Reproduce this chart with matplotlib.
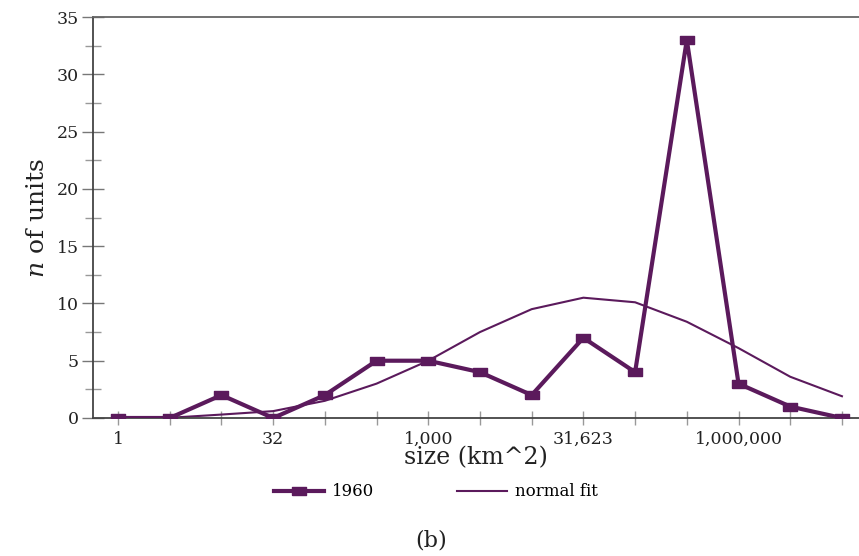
import matplotlib
matplotlib.use("Agg")
import matplotlib.pyplot as plt
from matplotlib.lines import Line2D

plt.rcParams["mathtext.fontset"] = "dejavuserif"

categories = ["1", "3", "10", "32", "100", "316", "1,000", "3,162", "10,000",
              "31,623", "100,000", "316,228", "1,000,000", "3,162,278", "10,000,000"]
series_1960 = [0, 0, 2, 0, 2, 5, 5, 4, 2, 7, 4, 33, 3, 1, 0]
normal_fit = [0, 0.02, 0.3, 0.6, 1.5, 3.0, 5.0, 7.5, 9.5, 10.5, 10.1, 8.4, 6.1, 3.6, 1.9]
tick_labels = ["1", "32", "1,000", "31,623", "1,000,000"]
tick_idx = [0, 3, 6, 9, 12]

color = "#5b1a5c"
W, H = 859, 556
fig = plt.figure(figsize=(W / 100, H / 100), dpi=100)
ax = fig.add_axes([93 / W, (H - 418) / H, (W - 93) / W, (418 - 17) / H])

x = list(range(len(categories)))
rect = [(-1, -0.6), (1, -0.6), (1, 0.6), (-1, 0.6), (-1, -0.6)]
ax.plot(x, series_1960, color=color, lw=3.0, marker=rect, markersize=10,
        solid_joinstyle="miter", zorder=3)
ax.plot(x, normal_fit, color=color, lw=1.5, zorder=2)

ax.set_xlim(-0.484, 14.33)
ax.set_ylim(0, 35)

serif = "DejaVu Serif"
ax.set_yticks(range(0, 36, 5))
ax.set_yticklabels([str(v) for v in range(0, 36, 5)], family=serif, fontsize=12.5, color="#222222")
ax.set_yticks([2.5 + 5 * i for i in range(7)], minor=True)
ax.set_xticks(tick_idx)
ax.set_xticklabels(tick_labels, family=serif, fontsize=12.5, color="#222222")
ax.set_xticks([i for i in x if i not in tick_idx], minor=True)

ax.tick_params(axis="y", which="major", direction="inout", length=16, width=1, color="#777777", pad=2)
ax.tick_params(axis="y", which="minor", direction="inout", length=11, width=1, color="#999999")
ax.tick_params(axis="x", which="both", direction="inout", length=10, width=1, color="#999999", pad=4)

for s in ["left", "bottom", "top"]:
    ax.spines[s].set_color("#444444")
    ax.spines[s].set_linewidth(1.3)
ax.spines["top"].set_color("#666666")
ax.spines["right"].set_visible(False)

ax.set_xlabel("size (km^2)", family=serif, fontsize=17, labelpad=-1, color="#222222")
ax.set_ylabel("$n$ of units", family=serif, fontsize=18, labelpad=6, color="#222222")

handles = [Line2D([], [], color=color, lw=3.0, marker=rect, markersize=10),
           Line2D([], [], color=color, lw=1.5)]
fig.legend(handles, ["1960", "normal fit"], loc="center", bbox_to_anchor=(436 / W, 1 - 492 / H),
           ncol=2, frameon=False, prop={"family": serif, "size": 12},
           handlelength=3.0, columnspacing=5.0, handletextpad=0.45)

fig.text(431 / W, 1 - 540 / H, "(b)", family=serif, fontsize=16, ha="center", va="center", color="#222222")

fig.savefig("out.png", dpi=100)
